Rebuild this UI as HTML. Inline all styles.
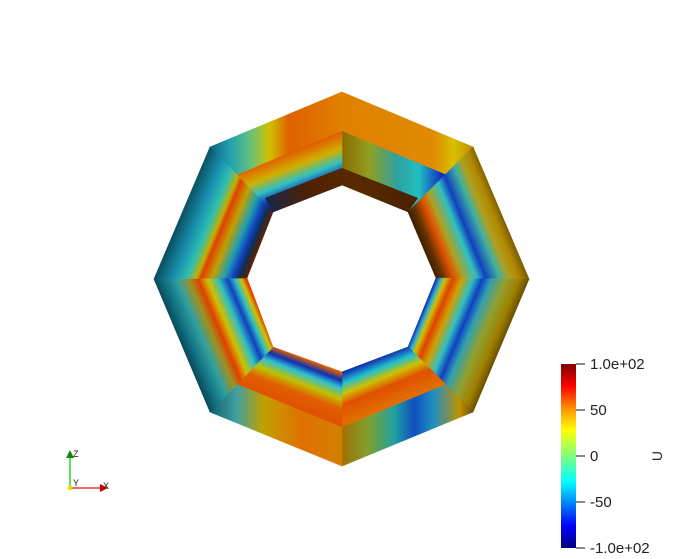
<!DOCTYPE html>
<html><head><meta charset="utf-8"><style>
html,body{margin:0;padding:0;background:#fff;width:682px;height:559px;overflow:hidden;font-family:"Liberation Sans",sans-serif}
</style></head><body>
<svg id="s" width="682" height="559" viewBox="0 0 682 559" xmlns="http://www.w3.org/2000/svg">
<defs id="defs">
<linearGradient id="cbar" x1="0" y1="1" x2="0" y2="0">
<stop offset="0" stop-color="#00007f"/><stop offset="0.12" stop-color="#0000ff"/><stop offset="0.36" stop-color="#00ffff"/><stop offset="0.5" stop-color="#7fff7f"/><stop offset="0.64" stop-color="#ffff00"/><stop offset="0.75" stop-color="#ff9a00"/><stop offset="0.88" stop-color="#ff0000"/><stop offset="1" stop-color="#7f0000"/>
</linearGradient>
<linearGradient id="wallg" gradientUnits="userSpaceOnUse" x1="262" y1="0" x2="420" y2="0">
<stop offset="0" stop-color="#102850"/><stop offset="0.3" stop-color="#502000"/><stop offset="0.6" stop-color="#5a2a00"/><stop offset="1" stop-color="#4a2000"/>
</linearGradient>
</defs>
<g id="ring"></g>
<polygon points="265,198 342,168 418,198 408,212 342,185 273,212" fill="url(#wallg)"/>
<g>
<rect x="561" y="364" width="15" height="184" fill="url(#cbar)"/>
<g id="ticks"></g>
<text transform="translate(662,456) rotate(-90)" font-size="14" fill="#222" text-anchor="middle">U</text>
</g>
<g>
<line x1="70" y1="488" x2="70" y2="456" stroke="#22dd22" stroke-width="1.5"/>
<polygon points="66,458 74,458 70,450" fill="#118811"/>
<line x1="70" y1="488" x2="102" y2="488" stroke="#ee3333" stroke-width="1.5"/>
<polygon points="100,484 100,492 108,488" fill="#cc0000"/>
<circle cx="70" cy="488" r="2.5" fill="#eedd00"/>
<text x="73" y="457" font-size="9" fill="#222">Z</text>
<text x="73" y="486" font-size="9" fill="#222">Y</text>
<text x="103" y="489" font-size="9" fill="#222">X</text>
</g>
</svg>
<script>
const tickValues=[100,50,0,-50,-100];
const tickLabels=["1.0e+02","50","0","-50","-1.0e+02"];
const vmin=-100, vmax=100;
const C=[342,279];
const O=[[342,92],[473,147],[529,279],[473,412],[342,466],[210,412],[154,279],[210,147]];
const I=[[342,185],[408,212],[436,278],[408,347],[342,372],[273,347],[247,278],[273,212]];
const A=O.map(p=>[C[0]+0.79*(p[0]-C[0]),C[1]+0.79*(p[1]-C[1])]);
const UR=[[0,"#806000"],[0.09,"#b08800"],[0.2,"#b0a020"],[0.3,"#40b0a0"],[0.45,"#1040c0"],[0.55,"#30c0c0"],[0.7,"#b0a020"],[0.8,"#e05000"],[0.92,"#603000"],[1,"#402000"]];
const LR=[[0,"#6a5000"],[0.1,"#a08000"],[0.25,"#90a030"],[0.4,"#30a0b0"],[0.5,"#1040c0"],[0.6,"#30c0c0"],[0.72,"#d0a000"],[0.82,"#e04000"],[0.9,"#d0c000"],[0.95,"#30b0d0"],[1,"#1030b0"]];
const UL=[[0,"#0a5060"],[0.08,"#106a80"],[0.2,"#1890b0"],[0.35,"#30c0b0"],[0.45,"#c0b000"],[0.5,"#e04000"],[0.62,"#c0a000"],[0.75,"#20a0b0"],[0.85,"#1040c0"],[0.92,"#103050"],[1,"#602000"]];
const LL=[[0,"#0a4a5a"],[0.1,"#107080"],[0.25,"#30a0a0"],[0.38,"#a09020"],[0.48,"#e04000"],[0.58,"#d0c000"],[0.7,"#30c0c0"],[0.8,"#1040c0"],[0.88,"#30c0c0"],[0.95,"#d0c000"],[1,"#e04000"]];
const faces=[
 {o:{t:'h',x1:342,x2:473,s:[[0,"#e08000"],[0.7,"#e08a00"],[0.85,"#d8c000"],[1,"#c09000"]]},
  i:{t:'h',x1:342,x2:452,s:[[0,"#8a6a00"],[0.25,"#90a020"],[0.5,"#30a0a0"],[0.7,"#20c0c0"],[0.9,"#1030c0"],[1,"#103060"]]}},
 {f:{t:'r',s:UR}},
 {f:{t:'r',s:LR}},
 {o:{t:'h',x1:473,x2:342,s:[[0,"#6a5000"],[0.1,"#c09000"],[0.3,"#2090c0"],[0.45,"#1050c0"],[0.6,"#20a0a0"],[0.8,"#80a030"],[1,"#a07000"]]},
  i:{t:'r',s:[[0,"#e07000"],[0.4,"#e05000"],[0.6,"#d0c000"],[0.8,"#20c0d0"],[1,"#1030b0"]]}},
 {o:{t:'h',x1:342,x2:210,s:[[0,"#d08000"],[0.3,"#e07000"],[0.6,"#c0a000"],[0.8,"#40a0a0"],[1,"#106070"]]},
  i:{t:'r',s:[[0,"#e05000"],[0.3,"#e06000"],[0.5,"#c0c000"],[0.7,"#30c0d0"],[0.85,"#1030b0"],[1,"#e06000"]]}},
 {f:{t:'r',s:LL}},
 {f:{t:'r',s:UL}},
 {o:{t:'h',x1:210,x2:342,s:[[0,"#106080"],[0.15,"#20a0b0"],[0.3,"#60c080"],[0.45,"#d0c000"],[0.6,"#e06000"],[0.8,"#e07000"],[1,"#e08000"]]},
  i:{t:'r',s:[[0,"#e06000"],[0.3,"#d0b000"],[0.55,"#30c0c0"],[0.8,"#1030b0"],[1,"#102050"]]}}
];
const NS="http://www.w3.org/2000/svg";
const defs=document.getElementById('defs'), ring=document.getElementById('ring');
function mid(a,b){return [(a[0]+b[0])/2,(a[1]+b[1])/2];}
function grad(id,g,P0,P1){
  const lg=document.createElementNS(NS,'linearGradient');
  lg.setAttribute('id',id);lg.setAttribute('gradientUnits','userSpaceOnUse');
  if(g.t==='h'){lg.setAttribute('x1',g.x1);lg.setAttribute('x2',g.x2);lg.setAttribute('y1',0);lg.setAttribute('y2',0);}
  else{lg.setAttribute('x1',P0[0]);lg.setAttribute('y1',P0[1]);lg.setAttribute('x2',P1[0]);lg.setAttribute('y2',P1[1]);}
  g.s.forEach(s=>{const st=document.createElementNS(NS,'stop');st.setAttribute('offset',s[0]);st.setAttribute('stop-color',s[1]);lg.appendChild(st);});
  defs.appendChild(lg);
}
function quad(id,g,P,Q,k,n,name){
  grad(id,g,mid(P[k],P[n]),mid(Q[k],Q[n]));
  const p=document.createElementNS(NS,'polygon');
  p.setAttribute('points',[P[k],P[n],Q[n],Q[k]].map(v=>v.join(',')).join(' '));
  p.setAttribute('fill','url(#'+id+')');
  p.setAttribute('stroke','url(#'+id+')');p.setAttribute('stroke-width','0.6');
  
  
  ring.appendChild(p);
}
for(let k=0;k<8;k++){
  const n=(k+1)%8;
  const f=faces[k];
  if(f.f){ quad('gf'+k,f.f,O,I,k,n,'side-face-'+k); }
  else { quad('go'+k,f.o,O,A,k,n,'outer-face-'+k); quad('gi'+k,f.i,A,I,k,n,'inner-face-'+k); }
}
const tg=document.getElementById('ticks');
const yTop=364,yBot=548;
function ys(v){return yBot-(v-vmin)/(vmax-vmin)*(yBot-yTop);}
tickValues.forEach((v,i)=>{
  const y=ys(v);
  const l=document.createElementNS(NS,'line');
  l.setAttribute('x1',576);l.setAttribute('x2',585);l.setAttribute('y1',y);l.setAttribute('y2',y);
  l.setAttribute('stroke','#111');l.setAttribute('stroke-width','1');
  
  
  tg.appendChild(l);
  const t=document.createElementNS(NS,'text');
  t.setAttribute('x',590);t.setAttribute('y',y+5);t.setAttribute('font-size','15');t.setAttribute('fill','#222');
  t.textContent=tickLabels[i];
  
  
  tg.appendChild(t);
});
</script>
</body></html>
